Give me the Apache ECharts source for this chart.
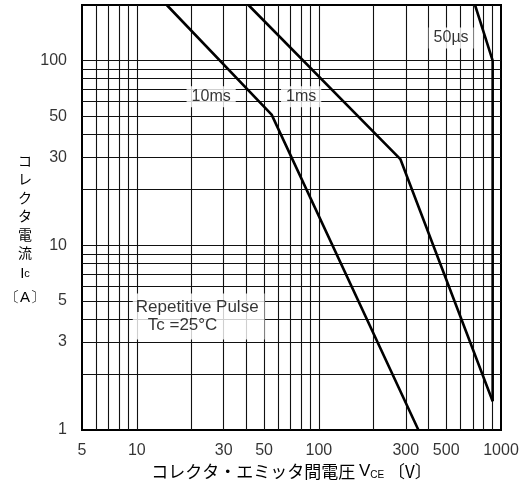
<!DOCTYPE html>
<html>
<head>
<meta charset="utf-8">
<script src="https://cdn.jsdelivr.net/npm/echarts@6/dist/echarts.min.js"></script>
<style>
html,body{margin:0;padding:0;background:#fff;}
#c{width:529px;height:485px;}
</style>
</head>
<body>
<div id="c"></div>
<script>
// ---- data ----
const xGridValues = [6,7,8,9,10,20,30,40,50,60,70,80,90,100,200,300,400,500,600,700,800,900];
const yGridValues = [2,3,4,5,6,7,8,9,10,20,30,40,50,60,70,80,90,100];
const xTickLabels = [5,10,30,50,100,300,500,1000];
const yTickLabels = [1,3,5,10,30,50,100];
const curve10ms = [[14.6,200],[55,51],[352,1]];
const curve1ms  = [[41,200],[280,29.3],[900,1.43]];
const curve50us = [[720,200],[900,100],[900,1.43]];
const curveLabels = [
  {text:'10ms', at:[25.6,63.8]},
  {text:'1ms',  at:[79.9,63.8]},
  {text:'50µs', at:[532,132.7]}
];
const noteAt = [9.5,4.11];

const FONT = '"Liberation Sans", Arial, sans-serif';
const JFONT = '"Noto Sans CJK JP", sans-serif';

const chart = echarts.init(document.getElementById('c'), null, {renderer:'canvas'});

const lineStyleCurve = {color:'#000', width:2.6};

const series = [
  {
    type:'line', data:curve10ms, symbol:'none', lineStyle:lineStyleCurve, z:5,
    markLine:{
      silent:true, symbol:['none','none'], animation:false,
      label:{show:false},
      lineStyle:{color:'#111', width:1.1, type:'solid'},
      data: xGridValues.map(v=>({xAxis:v})).concat(yGridValues.map(v=>({yAxis:v})))
    }
  },
  {type:'line', data:curve1ms, symbol:'none', lineStyle:lineStyleCurve, z:5},
  {type:'line', data:curve50us, symbol:'none', lineStyle:lineStyleCurve, z:5},
  {
    type:'scatter', symbolSize:0, clip:false, z:10,
    data: curveLabels.map(l=>({value:l.at, name:l.text})),
    label:{show:true, position:'inside', formatter:p=>p.name, color:'#000',
      fontFamily:FONT, fontSize:16, backgroundColor:'#fff', padding:[3,5,2,5]}
  },
  {
    type:'scatter', symbolSize:0, clip:false, z:10,
    data:[{value:noteAt}],
    label:{show:true, position:'inside', color:'#000', fontFamily:FONT,
      formatter:'{a|Repetitive Pulse}\n{b|Tc =25°C}',
      backgroundColor:'#fff', padding:[4,6,6,3], align:'left',
      rich:{a:{fontSize:17, fontFamily:FONT, lineHeight:19},
            b:{fontSize:17, fontFamily:FONT, lineHeight:17, padding:[0,0,0,12]}}}
  },
  {
    type:'scatter', symbolSize:0, clip:false, z:10,
    data: xTickLabels.map(v=>[v,1]),
    label:{show:true, position:'bottom', distance:13, formatter:p=>String(p.value[0]),
      color:'#000', fontFamily:FONT, fontSize:16}
  },
  {
    type:'scatter', symbolSize:0, clip:false, z:10,
    data: yTickLabels.map(v=>[5,v]),
    label:{show:true, position:'left', distance:15, formatter:p=>String(p.value[1]),
      color:'#000', fontFamily:FONT, fontSize:16}
  }
];

chart.setOption({
  animation:false,
  backgroundColor:'#fff',
  grid:{left:82, top:5, width:419, height:427, show:true, borderColor:'#000', borderWidth:2, backgroundColor:'transparent'},
  xAxis:{
    type:'log', min:5, max:1000, logBase:10,
    axisLine:{show:false}, axisTick:{show:false}, axisLabel:{show:false}, splitLine:{show:false},
    name:'コレクタ・エミッタ間電圧 {v|V}{s|CE} 〔V〕',
    nameLocation:'middle', nameGap:33,
    nameTextStyle:{fontFamily:JFONT, fontSize:17, color:'#000',
      rich:{v:{fontFamily:FONT, fontSize:17, color:'#000'}, s:{fontFamily:FONT, fontSize:10, color:'#000', verticalAlign:'bottom', padding:[6,0,0,0]}}}
  },
  yAxis:{
    type:'log', min:1, max:200, logBase:10,
    axisLine:{show:false}, axisTick:{show:false}, axisLabel:{show:false}, splitLine:{show:false},
    name:'{j|コ}\n{j|レ}\n{j|ク}\n{j|タ}\n{j|電}\n{j|流}\n{k|I}{s|c}\n{k|〔A〕}',
    nameLocation:'middle', nameRotate:0, nameGap:57,
    nameTextStyle:{color:'#000', align:'center', padding:[26,0,0,0],
      rich:{j:{fontFamily:JFONT, fontSize:14, lineHeight:18.5, color:'#000'},
            k:{fontFamily:FONT, fontSize:15, lineHeight:24, color:'#000'},
            s:{fontFamily:FONT, fontSize:11, lineHeight:24, color:'#000'}}}
  },
  series: series
});
</script>
</body>
</html>
